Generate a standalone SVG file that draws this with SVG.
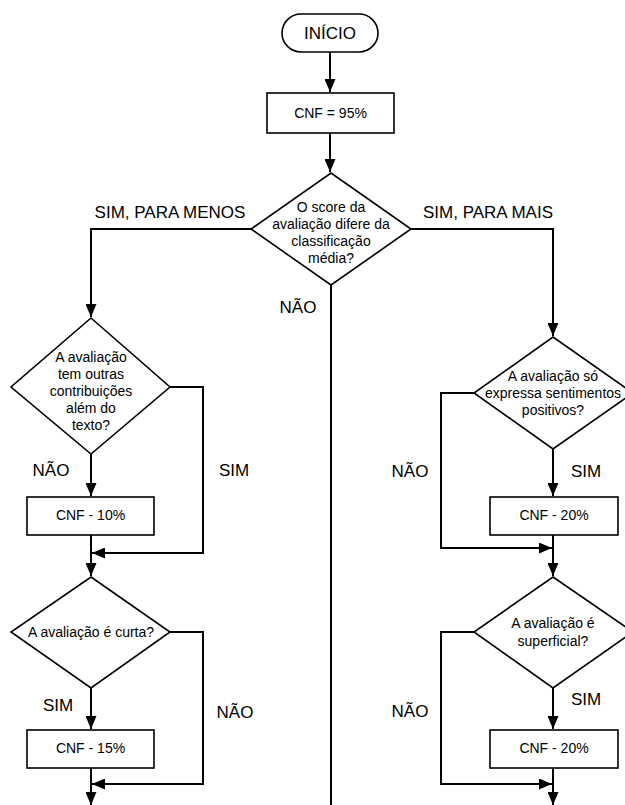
<svg xmlns="http://www.w3.org/2000/svg" width="625" height="805" viewBox="0 0 625 805">
<defs>
<marker id="arr" markerUnits="userSpaceOnUse" markerWidth="13" markerHeight="11" refX="13" refY="5.5" orient="auto">
<path d="M0,0 L13,5.5 L0,11 z" fill="#000"/>
</marker>
<style>
.shape{fill:#fff;stroke:#000;stroke-width:1.6}
.conn{fill:none;stroke:#000;stroke-width:2}
.nt{font-family:"Liberation Sans",Arial,sans-serif;font-size:14px;fill:#000;text-anchor:middle}
.lbl{font-family:"Liberation Sans",Arial,sans-serif;font-size:17px;fill:#000;text-anchor:middle}
</style>
</defs>
<rect width="625" height="805" fill="#fff"/>
<g id="connectors">
<path class="conn" d="M330,52 V92" marker-end="url(#arr)"/>
<path class="conn" d="M330,133 V172" marker-end="url(#arr)"/>
<path class="conn" d="M251,229 H91 V317" marker-end="url(#arr)"/>
<path class="conn" d="M411,229 H553 V336" marker-end="url(#arr)"/>
<path class="conn" d="M331,285 V805"/>
<path class="conn" d="M91,454 V496" marker-end="url(#arr)"/>
<path class="conn" d="M170,387 H203 V553 H92" marker-end="url(#arr)"/>
<path class="conn" d="M91,535 V576" marker-end="url(#arr)"/>
<path class="conn" d="M91,688 V729" marker-end="url(#arr)"/>
<path class="conn" d="M170,632 H203 V784 H92" marker-end="url(#arr)"/>
<path class="conn" d="M91,768 V805" marker-end="url(#arr)"/>
<path class="conn" d="M553,449 V496" marker-end="url(#arr)"/>
<path class="conn" d="M474,393 H441 V548 H552" marker-end="url(#arr)"/>
<path class="conn" d="M553,535 V576" marker-end="url(#arr)"/>
<path class="conn" d="M553,688 V729" marker-end="url(#arr)"/>
<path class="conn" d="M474,632 H441 V784 H552" marker-end="url(#arr)"/>
<path class="conn" d="M553,768 V805" marker-end="url(#arr)"/>
</g>
<g id="labels">
<text class="lbl" x="170" y="218">SIM, PARA MENOS</text>
<text class="lbl" x="488" y="218">SIM, PARA MAIS</text>
<text class="lbl" x="298" y="313">NÃO</text>
<text class="lbl" x="51" y="476">NÃO</text>
<text class="lbl" x="234" y="476">SIM</text>
<text class="lbl" x="58" y="711">SIM</text>
<text class="lbl" x="235" y="718">NÃO</text>
<text class="lbl" x="410" y="477">NÃO</text>
<text class="lbl" x="586" y="477">SIM</text>
<text class="lbl" x="410" y="717">NÃO</text>
<text class="lbl" x="586" y="705">SIM</text>
</g>
<g id="inicio">
<rect class="shape" x="282" y="14" width="96" height="38" rx="19"/>
<text class="lbl" x="330" y="39">INÍCIO</text>
</g>
<g id="cnf95">
<rect class="shape" x="267" y="93" width="127" height="40"/>
<text class="nt" x="330.5" y="118">CNF = 95%</text>
</g>
<g id="d-score">
<polygon class="shape" points="331,173 411,229 331,285 251,229"/>
<text class="nt" x="331" y="212">O score da</text>
<text class="nt" x="331" y="229">avaliação difere da</text>
<text class="nt" x="331" y="246">classificação</text>
<text class="nt" x="331" y="263">média?</text>
</g>
<g id="d-contrib">
<polygon class="shape" points="91,318 170,387 91,454 11,387"/>
<text class="nt" x="91" y="362">A avaliação</text>
<text class="nt" x="91" y="379">tem outras</text>
<text class="nt" x="91" y="396">contribuições</text>
<text class="nt" x="91" y="413">além do</text>
<text class="nt" x="91" y="430">texto?</text>
</g>
<g id="cnf10">
<rect class="shape" x="27" y="497" width="127" height="38"/>
<text class="nt" x="90.5" y="520">CNF - 10%</text>
</g>
<g id="d-curta">
<polygon class="shape" points="91,577 170,632 91,688 11,632"/>
<text class="nt" x="91" y="637">A avaliação é curta?</text>
</g>
<g id="cnf15">
<rect class="shape" x="27" y="730" width="127" height="38"/>
<text class="nt" x="90.5" y="753">CNF - 15%</text>
</g>
<g id="d-positivos">
<polygon class="shape" points="553,337 633,393 553,449 474,393"/>
<text class="nt" x="553" y="381">A avaliação só</text>
<text class="nt" x="553" y="398">expressa sentimentos</text>
<text class="nt" x="553" y="415">positivos?</text>
</g>
<g id="cnf20a">
<rect class="shape" x="490" y="497" width="128" height="38"/>
<text class="nt" x="554" y="520">CNF - 20%</text>
</g>
<g id="d-superficial">
<polygon class="shape" points="553,577 633,632 553,688 474,632"/>
<text class="nt" x="553" y="628">A avaliação é</text>
<text class="nt" x="553" y="646">superficial?</text>
</g>
<g id="cnf20b">
<rect class="shape" x="490" y="730" width="128" height="38"/>
<text class="nt" x="554" y="753">CNF - 20%</text>
</g>
</svg>
